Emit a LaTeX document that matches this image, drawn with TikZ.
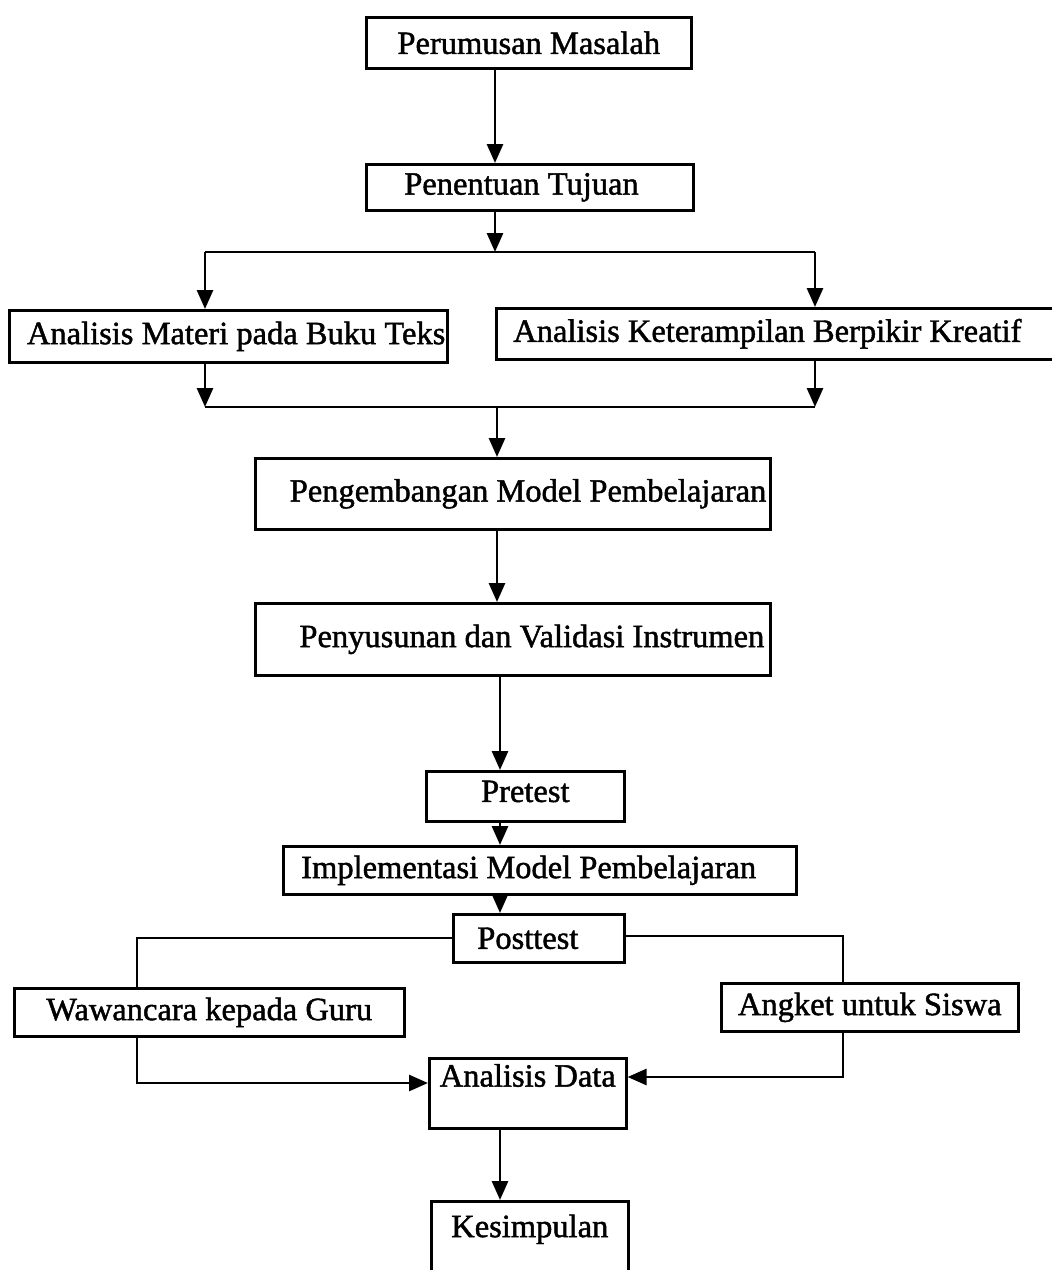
\documentclass[tikz,border=0pt]{standalone}
\usepackage{fontspec}
\setmainfont{Liberation Serif}
\newfontfamily\scanfont{Liberation Serif}[FakeBold=1.4]
\usetikzlibrary{arrows.meta,calc}
\begin{document}
\begin{tikzpicture}[x=1pt,y=-1pt,
  box/.style={draw, line width=2.6pt, inner sep=0pt, anchor=north west,
    font=\scanfont\fontsize{32.5}{38}\selectfont},
  conn/.style={line width=2.8pt},
  arr/.style={conn, -{Triangle[length=19pt,width=16pt]}}]
\useasboundingbox (0,0) rectangle (1052,1270);
\fill[white] (0,0) rectangle (1052,1270);

% boxes
\node[box, minimum width=325pt, minimum height=51pt] (per) at (365,16) {Perumusan Masalah};
\node[box, minimum width=327pt, minimum height=46pt, text width=251pt, align=flush left] (pen) at (365,163) {Penentuan Tujuan};
\node[box, minimum width=438pt, minimum height=52pt, text width=434pt, align=flush right] (mat) at (8,309) {Analisis Materi pada Buku Teks};
\node[box, minimum width=575pt, minimum height=51pt, text width=541pt, align=flush left] (ker) at (495,307) {Analisis Keterampilan Berpikir Kreatif};
\node[box, minimum width=515pt, minimum height=71pt, text width=507pt, align=flush right] (dev) at (254,457) {Pengembangan Model Pembelajaran};
\node[box, minimum width=515pt, minimum height=72pt, text width=503pt, align=flush right] (val) at (254,602) {Penyusunan dan Validasi Instrumen};
\node[box, minimum width=198pt, minimum height=50pt, text depth=10pt] (pre) at (425,770) {Pretest};
\node[box, minimum width=513pt, minimum height=48pt, text width=477pt, align=flush left] (imp) at (282,845) {Implementasi Model Pembelajaran};
\node[box, minimum width=171pt, minimum height=48pt, text width=123pt, align=flush left] (post) at (452,913) {Posttest};
\node[box, minimum width=390pt, minimum height=48pt] (wwc) at (13,987) {Wawancara kepada Guru};
\node[box, minimum width=297pt, minimum height=48pt] (ang) at (720,982) {Angket untuk Siswa};
\node[box, minimum width=197pt, minimum height=70pt, text depth=36pt] (ad) at (428,1057) {Analisis Data};
\node[box, minimum width=197pt, minimum height=85pt, text depth=36pt] (kes) at (430,1200) {Kesimpulan};

% helper coordinates
\coordinate (a1) at (495,0);
\coordinate (sp) at (495,252);
\coordinate (spl) at (205,252);
\coordinate (spr) at (815,252);
\coordinate (jn) at (497,407);
\coordinate (jnl) at (205,407);
\coordinate (jnr) at (815,407);
\coordinate (a2) at (497,0);
\coordinate (a3) at (500,0);
\coordinate (bl) at (137,938);
\coordinate (br) at (843,936);
\coordinate (cl) at (137,1083);
\coordinate (cr) at (843,1077);

% connectors
\draw[arr] (per.south -| a1) -- (pen.north -| a1);
\draw[arr] (pen.south -| sp) -- (sp);
\draw[conn] (spl) -- (spr);
\draw[arr] (spl) -- (mat.north -| spl);
\draw[arr] (spr) -- (ker.north -| spr);
\draw[arr] (mat.south -| jnl) -- (jnl);
\draw[arr] (ker.south -| jnr) -- (jnr);
\draw[conn] (jnl) -- (jnr);
\draw[arr] (jn) -- (dev.north -| jn);
\draw[arr] (dev.south -| a2) -- (val.north -| a2);
\draw[arr] (val.south -| a3) -- (pre.north -| a3);
\draw[arr] (pre.south -| a3) -- (imp.north -| a3);
\draw[arr] (imp.south -| a3) -- (post.north -| a3);
\draw[conn] (post.west |- bl) -- (bl) -- (wwc.north -| bl);
\draw[conn] (post.east |- br) -- (br) -- (ang.north -| br);
\draw[arr] (wwc.south -| cl) -- (cl) -- (ad.west |- cl);
\draw[arr] (ang.south -| cr) -- (cr) -- (ad.east |- cr);
\draw[arr] (ad.south -| a3) -- (kes.north -| a3);
\end{tikzpicture}
\end{document}
